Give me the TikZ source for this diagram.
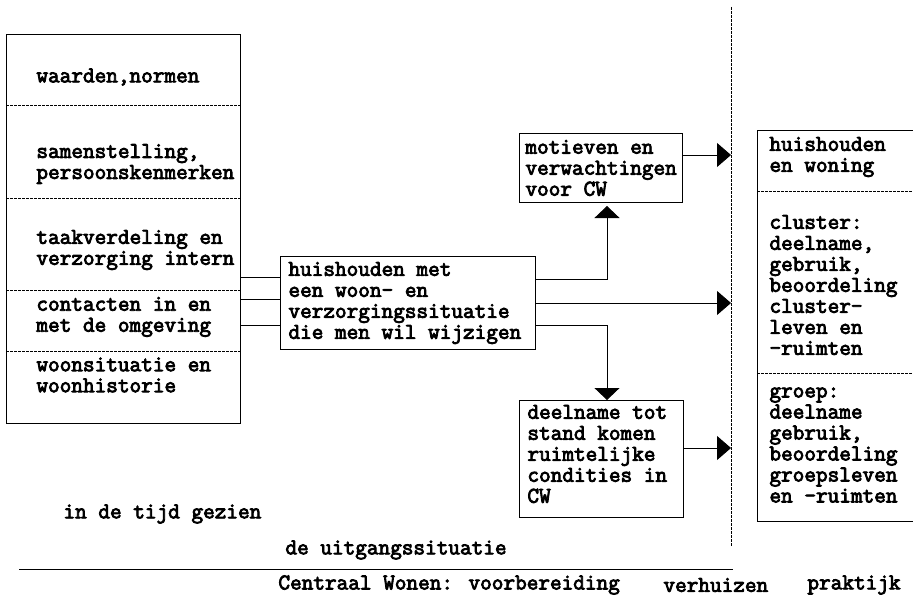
\documentclass[tikz,border=0pt]{standalone}
\usepackage{fontspec}
\usetikzlibrary{arrows.meta}
\newfontfamily\tw{Latin Modern Mono}[AutoFakeBold=3.6]
\tikzset{
  every picture/.style={line width=0.9pt},
  box/.style={draw, line width=0.9pt},
  divider/.style={dash pattern=on 3pt off 1pt, line width=0.7pt},
  txt/.style={anchor=west, inner sep=0pt, align=left,
    font=\tw\bfseries\fontsize{22.6}{21}\selectfont},
  rarrow/.style={-{Triangle[length=14pt,width=24pt]}, line width=0.9pt},
  varrow/.style={-{Triangle[length=12pt,width=25pt]}, line width=0.9pt},
}
\begin{document}
\begin{tikzpicture}[x=1pt,y=-1pt]
\useasboundingbox (0,0) rectangle (913,599);

% left column: characteristics of the household
\node[box, minimum width=234pt, minimum height=389pt, anchor=north west, inner sep=0pt] (left) at (6,34) {};
\draw[divider] (6,105) -- (240,105);
\draw[divider] (6,198) -- (240,198);
\draw[divider] (6,290) -- (240,290);
\draw[divider] (6,351) -- (240,351);
\node[txt] (l1) at (36,77) {waarden,normen};
\node[txt] (l2) at (36,164) {samenstelling,\\persoonskenmerken};
\node[txt] (l3) at (36,250) {taakverdeling en\\verzorging intern};
\node[txt] (l4) at (36,317) {contacten in en\\met de omgeving};
\node[txt] (l5) at (36,375) {woonsituatie en\\woonhistorie};

% central household box
\node[box, minimum width=255pt, minimum height=93pt, anchor=north west, inner sep=0pt] (hh) at (280,256) {};
\node[txt] (hht) at (288,303) {huishouden met\\een woon- en\\verzorgingssituatie\\die men wil wijzigen};

% motives box
\node[box, minimum width=163pt, minimum height=69pt, anchor=north west, inner sep=0pt] (mot) at (519,133) {};
\node[txt] (mott) at (525,168) {motieven en\\verwachtingen\\voor CW};

% participation box
\node[box, minimum width=164pt, minimum height=117pt, anchor=north west, inner sep=0pt] (dln) at (519,400) {};
\node[txt] (dlnt) at (527,454) {deelname tot\\stand komen\\ruimtelijke\\condities in\\CW};

% right column: practice
\draw[line width=0.9pt] (913,130) -- (757,130) -- (757,521) -- (913,521);
\draw[divider] (757,191) -- (913,191);
\draw[divider] (757,373) -- (913,373);
\node[txt] (r1) at (769,157) {huishouden\\en woning};
\node[txt] (r2) at (769,285) {cluster:\\deelname,\\gebruik,\\beoordeling\\cluster-\\leven en\\-ruimten};
\node[txt] (r3) at (769,445) {groep:\\deelname\\gebruik,\\beoordeling\\groepsleven\\en -ruimten};

% time boundary (moving in)
\coordinate (vtop) at (731,7);
\coordinate (vbot) at (731,547);
\draw[divider] (vtop) -- (vbot);

% connectors from the left column into the household box
\draw (240,277) -- (280,277);
\draw (240,299) -- (280,299);
\draw (240,325) -- (280,325);

% connectors out of the household box
\coordinate (up) at (607,279);
\coordinate (dn) at (607,325);
\draw[varrow] (535,279) -- (up) -- (607,206);
\draw[varrow] (535,325) -- (dn) -- (dln.north -| dn);
\draw[rarrow] (535,303) -- (731,303);
\draw[rarrow] (682,155) -- (731,155);
\draw[rarrow] (683,448) -- (731,448);

% time axis
\node[txt] (tijd) at (63,514) {in de tijd gezien};
\node[txt] (uit) at (285,550) {de uitgangssituatie};
\coordinate (ax0) at (19,569);
\coordinate (ax1) at (733,569);
\draw (ax0) -- (ax1);
\node[txt] (cw) at (278,585) {Centraal Wonen: voorbereiding};
\node[txt] (verh) at (663,585) {verhuizen};
\node[txt] (prak) at (807,585) {praktijk};
\end{tikzpicture}
\end{document}
